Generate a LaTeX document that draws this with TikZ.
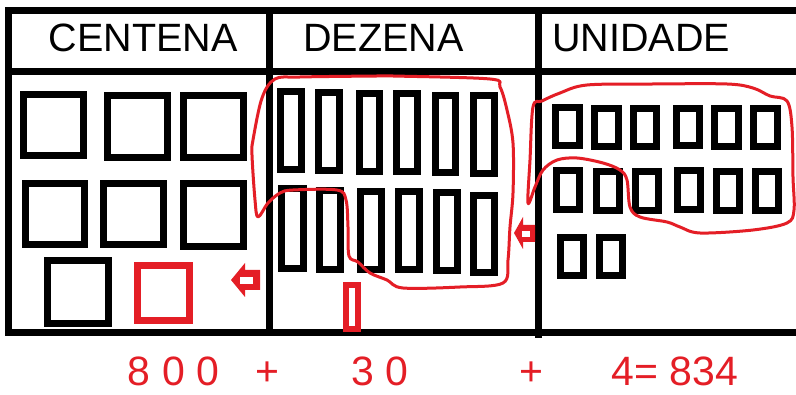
\documentclass[tikz,border=0pt]{standalone}
\usepackage{fontspec}
\setmainfont{Liberation Sans}
\definecolor{penred}{RGB}{228,30,38}
\newcommand\myBox[5][black]{\draw[boxline,draw=#1] ({#2+3.5},{#3+3.5}) rectangle ({#4-3.5},{#5-3.5});}
\tikzset{
  tline/.style={draw=black,line width=7pt},
  boxline/.style={line width=7pt},
  blob/.style={draw=penred,line width=3pt,line join=round},
  head/.style={font=\fontsize{39.5}{45}\selectfont,anchor=base,inner sep=0pt,text=black},
  sumtext/.style={font=\fontsize{41}{46}\selectfont,anchor=base,inner sep=0pt,text depth=0pt,text=penred}
}
\begin{document}
\begin{tikzpicture}[x=1pt,y=-1pt]
\useasboundingbox[fill=white] (0,0) rectangle (796,395);
% table
\draw[tline] (8.5,7.5) -- (8.5,336.5);
\draw[tline] (5,11) -- (796,11);
\draw[tline] (5,71.5) -- (796,71.5);
\draw[tline] (5,333) -- (796,333);
\draw[tline] (269.5,7.5) -- (269.5,336.5);
\draw[tline] (538.5,7.5) -- (538.5,338);
% headers
\node[head] (hc) at (143,52) {CENTENA};
\node[head] (hd) at (383.5,52) {DEZENA};
\node[head] (hu) at (641,52) {UNIDADE};
% centena squares
\myBox{20}{91}{87}{159}
\myBox{104}{92}{171}{161}
\myBox{180}{92}{247}{161}
\myBox{22}{180}{88}{248}
\myBox{100}{180}{167}{248}
\myBox{180}{180}{247}{250}
\myBox{44}{257}{112}{327}
\myBox[penred]{134}{262}{193}{324}
% dezena bars
\myBox{277}{88}{305}{173}
\myBox{315}{89}{343}{174}
\myBox{356}{90}{383}{175}
\myBox{393}{90}{421}{175}
\myBox{432}{92}{459}{176}
\myBox{470}{92}{498}{177}
\myBox{278}{185}{307}{272}
\myBox{316}{187}{344}{273}
\myBox{357}{188}{385}{273}
\myBox{395}{188}{423}{273}
\myBox{433}{189}{461}{274}
\myBox{470}{192}{498}{276}
\draw[draw=penred,line width=6pt] (346,285) rectangle (358,329);
% unidade cubes
\myBox{552}{104}{583}{149}
\myBox{591}{105}{622}{150}
\myBox{630}{105}{660}{150}
\myBox{673}{105}{703}{149}
\myBox{711}{105}{742}{150}
\myBox{750}{105}{781}{150}
\myBox{553}{167}{583}{213}
\myBox{593}{168}{623}{214}
\myBox{632}{168}{662}{214}
\myBox{674}{167}{704}{213}
\myBox{713}{168}{743}{214}
\myBox{752}{168}{782}{214}
\myBox{557}{234}{587}{279}
\myBox{596}{234}{626}{279}
% red arrows
\fill[penred] (231,280) -- (245,263) -- (245,270) -- (260,270) -- (260,290) -- (245,290) -- (245,297) -- cycle;
\fill[white] (240,277) rectangle (253,284);
\fill[penred] (514,233) -- (523,217) -- (523,225) -- (535,225) -- (535,242) -- (523,242) -- (523,249) -- cycle;
\fill[white] (522,231) rectangle (530,237);
% red loops
\draw[blob] plot[smooth cycle,tension=0.55] coordinates {
 (275,79) (300,77) (377,76) (393,76) (490,79) (500,87) (507,110) (513,143)
 (513,193) (510,227) (508,260) (503,283) (460,287) (403,288) (387,280)
 (370,273) (358,262) (349,256) (348,227) (346,200) (337,190) (293,190)
 (280,193) (268,203) (258,217) (255,200) (252,155) (253,140) (262,98)};
\draw[blob] plot[smooth cycle,tension=0.55] coordinates {
 (533,107) (542,101) (560,93) (587,85) (653,84) (727,84) (753,88) (770,96)
 (787,101) (792,127) (793,177) (794,210) (787,223) (753,230) (700,233)
 (680,227) (667,222) (640,217) (630,207) (627,180) (620,170) (603,163)
 (577,158) (557,160) (543,170) (535,187) (528,203) (530,160)};
% sum
\node[sumtext] (s1) at (173.5,386) {8 0 0};
\node[sumtext] (p1) at (267.5,386) {+};
\node[sumtext] (s2) at (380,386) {3 0};
\node[sumtext] (p2) at (531,386) {+};
\node[sumtext] (s3) at (675,386) {4= 834};
\end{tikzpicture}
\end{document}
